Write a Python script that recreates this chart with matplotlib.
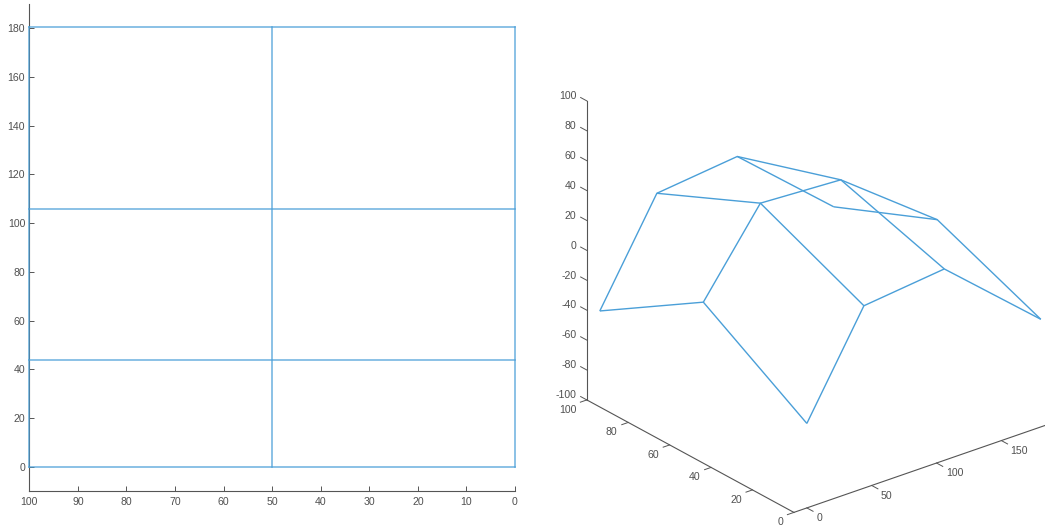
#!/usr/bin/env python3
# Mesh seen from above (left) and as a 3D wireframe (right)
import numpy as np
import matplotlib
matplotlib.use("Agg")
import matplotlib.pyplot as plt
from mpl_toolkits.mplot3d import proj3d

plt.rcParams['font.family'] = ['Liberation Sans', 'DejaVu Sans']

# Mesh nodes
x_nodes = [100, 50, 0]
y_nodes = [0, 44, 106, 180.4]
z_rows = [
    [-43.5, 0, -43.5],
    [22, 53, 22],
    [28, 50, 28],
    [-28, 1, -28],
]

left_xticks = [100, 90, 80, 70, 60, 50, 40, 30, 20, 10, 0]
left_yticks = [0, 20, 40, 60, 80, 100, 120, 140, 160, 180]
x3d_ticks = [0, 20, 40, 60, 80, 100]
y3d_ticks = [0, 50, 100, 150]
z3d_ticks = [-100, -80, -60, -40, -20, 0, 20, 40, 60, 80, 100]

line_color = '#4a9fd8'
axis_color = '#555555'
text_color = '#505050'
label_size = 7.6

W, H = 1045, 528
fig = plt.figure(figsize=(W / 100, H / 100), dpi=100)

X, Y = np.meshgrid(x_nodes, y_nodes)
Z = np.array(z_rows)

# -------- LEFT: top view ------------------------
ax = fig.add_axes([29.3 / W, (H - 491) / H, 485.7 / W, 487 / H])
ax.plot(X, Y, color=line_color, lw=1.2, alpha=0.75, clip_on=False, zorder=3)
ax.plot(X.T, Y.T, color=line_color, lw=1.2, alpha=0.75, clip_on=False, zorder=3)
ax.set_xlim(100, 0)
ax.set_ylim(-10, 190)
ax.set_xticks(left_xticks)
ax.set_yticks(left_yticks)
ax.tick_params(direction='in', length=3.5, width=0.7, color=axis_color,
               labelcolor=text_color, labelsize=label_size, pad=3)
ax.tick_params(axis='x', pad=4.5)
ax.spines['top'].set_visible(False)
ax.spines['right'].set_visible(False)
ax.spines['left'].set_color(axis_color)
ax.spines['bottom'].set_color(axis_color)

# -------- RIGHT: 3D wireframe -------------------
# big axes so that nothing in the wireframe gets clipped at the axes edge
S = 558
ax3 = fig.add_axes([533.5 / W, -20.3 / H, S / W, S / H], projection='3d',
                   proj_type='ortho', computed_zorder=False)
ax3.set_xlim(100, 0, view_margin=0)
ax3.set_ylim(-10, 190, view_margin=0)
ax3.set_zlim(-100, 100, view_margin=0)
ax3.set_box_aspect((1, 1, 1), zoom=1.0)
ax3.view_init(elev=25.7, azim=-38.6)
ax3.set_axis_off()
ax3.patch.set_alpha(0)

ax3.plot_wireframe(X, Y, Z, rstride=1, cstride=1, color=line_color, linewidth=1.0)

# axis lines by hand, matlab puts them on other edges than mplot3d
axis_kw = dict(color=axis_color, lw=0.8, clip_on=False)
ax3.plot([100, 100], [-10, -10], [-100, 100], **axis_kw)
ax3.plot([0, 100], [-10, -10], [-100, -100], **axis_kw)
ax3.plot([0, 0], [-10, 190], [-100, -100], **axis_kw)

# labels as plain 2D text at the projected position
M = ax3.get_proj()


def label3d(x, y, z, s, ha):
    px, py, _ = proj3d.proj_transform(x, y, z, M)
    ax3.text2D(px, py, s, transform=ax3.transData, ha=ha, va='center',
               color=text_color, fontsize=label_size)


tick_kw = dict(color=axis_color, lw=0.7, clip_on=False)
for t in z3d_ticks:
    ax3.plot([100, 103], [-10, -10], [t, t], **tick_kw)
    label3d(105, -10, t - 0.6, str(t), 'right')
for t in x3d_ticks:
    ax3.plot([t, t], [-10, -15], [-100, -100], **tick_kw)
    label3d(t, -18.3, -104, str(t), 'right')
for t in y3d_ticks:
    ax3.plot([0, -3], [t, t], [-100, -100], **tick_kw)
    label3d(-4.5, t, -103.6, str(t), 'left')

fig.savefig("out.png", dpi=100)
